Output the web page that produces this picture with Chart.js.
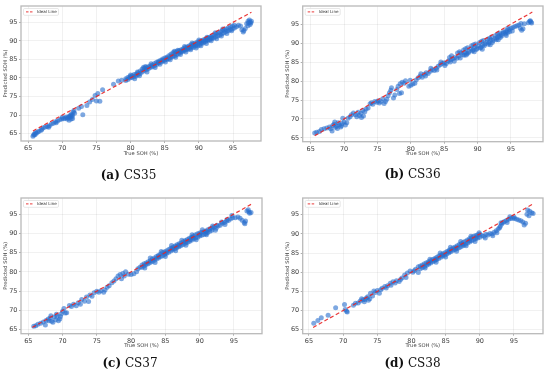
<!DOCTYPE html>
<html>
<head>
<meta charset="utf-8">
<script src="https://cdn.jsdelivr.net/npm/chart.js@4.4.1/dist/chart.umd.min.js"></script>
<style>
  html, body { margin: 0; padding: 0; background: #fff; }
  #wrap { position: relative; width: 550px; height: 377px; overflow: hidden; }
  #wrap canvas { position: absolute; }
  .caption { position: absolute; width: 200px; text-align: center; font-family: 'DejaVu Serif', serif; font-size: 12px; line-height: 14px; color: #111; }
</style>
</head>
<body>
<div id="wrap"></div>
<script>
// tick labels (both axes)
const sohTicks = [65, 70, 75, 80, 85, 90, 95];

// ideal line ends [min, max]
const cs35Ideal = [65.7, 97.7];
const cs36Ideal = [65.6, 98.2];
const cs37Ideal = [65.6, 97.5];
const cs38Ideal = [65.6, 97.8];

// [true SOH, predicted SOH]
const cs35Points = [
  [65.7,64.3],[65.8,64.6],[65.9,64.9],[66.0,64.7],[66.1,65.3],[66.2,65.1],[66.4,65.4],[66.6,65.6],[66.9,65.9],[67.0,66.2],
  [67.2,66.6],[67.5,66.8],[67.8,66.9],[68.0,66.7],[68.1,67.1],[68.4,67.6],[68.7,67.8],[69.0,68.2],[69.1,67.9],[69.3,68.4],
  [69.6,68.7],[69.9,68.9],[70.0,69.4],[70.2,69.0],[70.4,69.2],[70.6,69.5],[70.7,68.9],[70.8,69.3],[71.0,69.7],[71.0,68.6],
  [71.1,69.4],[71.2,69.9],[71.3,70.2],[71.3,68.9],[71.4,69.6],[71.5,70.0],[71.5,69.1],[71.6,70.8],[71.7,71.2],[71.8,70.5],
  [72.4,71.8],[72.8,72.3],[73.0,70.1],[73.6,72.6],[74.0,73.5],[74.4,74.2],[74.8,75.3],[75.0,73.8],[75.2,75.8],[75.5,73.7],
  [75.9,76.8],[77.5,78.3],[78.2,79.2],[78.7,79.4],
  [79.3,79.8],[79.3,79.3],[79.6,80.1],[79.6,79.6],[79.9,80.4],[79.9,80.0],[80.2,80.6],[80.2,80.1],[80.5,80.9],[80.5,80.3],
  [80.8,81.0],[80.8,80.5],[81.1,81.4],[81.1,80.9],[81.4,81.9],[81.4,81.2],[81.7,82.4],[81.7,81.6],[82.0,82.6],[82.0,82.0],
  [82.3,82.8],[82.3,82.2],[82.6,83.0],[82.6,82.5],[82.9,83.3],[82.9,82.8],[83.2,83.5],[83.2,83.0],[83.5,83.9],[83.5,83.3],
  [83.8,84.2],[83.8,83.6],[84.1,84.5],[84.1,84.0],[84.1,84.2],[84.4,84.8],[84.4,84.2],[84.7,85.1],[84.7,84.5],[84.7,84.8],
  [85.0,85.4],[85.0,84.8],[85.3,85.6],[85.3,85.0],[85.3,85.3],[85.6,86.0],[85.6,85.2],[85.9,86.4],[85.9,85.5],[85.9,85.9],
  [86.2,86.8],[86.2,85.8],[86.4,87.2],[86.5,87.0],[86.5,86.0],[86.5,86.5],[86.8,87.1],[86.8,86.3],[86.9,87.5],[87.1,87.4],
  [87.1,86.6],[87.1,87.0],[87.4,87.6],[87.4,86.9],[87.4,87.2],[87.7,87.9],[87.7,87.2],[87.7,87.5],[88.0,88.2],[88.0,87.5],
  [88.0,87.8],[88.3,88.4],[88.3,87.7],[88.3,88.0],[88.6,88.7],[88.6,87.9],[88.6,88.3],[88.9,89.0],[88.9,88.1],[88.9,88.5],
  [89.2,89.2],[89.2,88.3],[89.2,88.8],[89.5,89.4],[89.5,88.6],[89.5,89.0],[89.8,89.7],[89.8,88.6],[89.8,89.2],[90.1,89.9],
  [90.1,88.9],[90.1,89.5],[90.4,90.1],[90.4,89.3],[90.4,89.7],[90.7,90.3],[90.7,89.5],[90.7,89.9],[91.0,90.6],[91.0,89.8],
  [91.0,90.2],[91.3,90.8],[91.3,90.1],[91.3,90.4],[91.6,91.0],[91.6,90.3],[91.6,90.7],[91.9,91.3],[91.9,90.6],[91.9,90.9],
  [92.2,91.6],[92.2,90.8],[92.5,91.9],[92.5,91.1],[92.8,92.2],[92.8,91.4],[93.1,92.4],[93.1,91.6],[93.4,92.7],[93.4,91.9],
  [93.7,93.0],[93.7,92.2],[94.0,93.2],[94.0,92.5],[94.3,93.5],[94.3,92.7],[94.6,93.8],[94.6,93.0],[94.9,94.0],[94.9,93.2],
  [95.2,94.2],[95.2,93.5],[95.5,93.8],[95.8,94.2],[96.1,94.0],[96.3,93.0],[96.5,92.4],[96.6,92.8],[96.8,93.3],[97.0,94.6],
  [97.2,95.3],[97.3,94.9],[97.4,95.6],[97.5,95.1],[97.6,94.8],[97.7,95.3],[97.5,94.4],[97.2,94.1],
  [84.3,83.7],[85.1,84.3],[85.8,84.9],[86.6,85.6],[87.3,86.3],[88.1,87.0],[88.8,87.6],[89.6,88.1],[90.3,88.7],[91.1,89.3],
  [91.8,90.0],[92.6,90.6],[93.3,91.3],[94.1,92.0],[94.8,92.7],[87.9,88.5],[89.0,89.4],[90.0,90.2],[91.2,91.0],[92.4,92.2],
  [93.5,93.2],[81.0,81.6],[82.2,83.1],[83.0,83.8],[80.0,80.8],[80.6,79.8],[81.3,80.6],[81.9,82.9],[82.4,81.6],[83.6,82.8]
];

const cs36Points = [
  [65.6,66.3],[65.9,66.5],[66.3,66.7],[66.6,67.2],[67.0,67.4],[67.4,67.6],[67.8,67.9],[68.0,67.4],[68.2,66.8],[68.3,68.3],
  [68.5,68.6],[68.6,69.2],[68.7,67.8],[68.9,68.1],[69.0,67.5],[69.1,69.0],[69.3,68.5],[69.5,67.9],[69.6,68.2],[69.7,68.8],
  [69.8,70.2],[70.0,69.2],[70.2,68.4],[70.4,69.0],[70.6,70.2],[70.9,70.6],[71.1,71.1],[71.4,71.6],[71.7,71.1],[71.9,70.6],
  [72.1,71.8],[72.3,70.9],[72.5,71.5],[72.6,70.4],[72.8,72.2],[72.9,70.8],[73.1,71.9],[73.3,72.6],[73.6,72.9],[73.9,74.0],
  [74.1,74.3],[74.3,73.9],[74.6,74.6],[74.9,74.4],[75.1,74.8],[75.3,74.2],[75.5,74.6],[75.8,75.3],[76.0,74.1],[76.2,74.6],
  [76.4,75.2],[76.6,76.1],[76.8,76.9],[77.0,77.6],[77.1,78.2],[77.4,75.5],[77.6,76.3],[77.9,77.8],[78.1,78.6],[78.3,76.7],
  [78.4,79.3],[78.6,76.9],[78.7,79.7],[79.0,79.4],[79.2,80.1],[79.7,78.6],[79.9,80.2],[80.0,78.9],[80.3,79.2],[80.6,79.4],
  [80.8,80.3],[81.1,80.9],[81.4,81.3],[81.7,81.0],[82.0,81.8],[82.3,82.2],[82.6,82.0],[82.9,82.6],[83.2,83.0],[83.5,82.8],
  [83.8,83.4],[84.1,83.9],[84.4,84.3],[84.7,84.6],[85.0,84.8],[85.3,84.6],[85.6,85.3],[85.9,85.0],[86.0,85.6],[86.3,85.9],
  [86.6,86.2],[86.9,86.0],[87.2,86.6],[87.3,87.7],[87.5,87.4],[87.8,87.0],[87.9,88.2],[88.0,86.8],[88.1,87.5],[88.4,87.3],
  [88.5,88.8],[88.6,87.4],[88.7,87.8],[89.0,88.5],[89.1,89.3],[89.2,87.9],[89.3,88.2],[89.6,89.0],[89.7,89.8],[89.8,88.3],
  [89.9,88.6],[90.2,89.3],[90.3,90.2],[90.4,88.7],[90.5,88.9],[90.8,89.6],[90.9,90.7],[91.0,89.3],[91.1,89.8],[91.4,90.3],
  [91.5,91.0],[91.6,89.7],[91.7,90.1],[92.0,90.8],[92.1,91.6],[92.2,90.2],[92.3,90.6],[92.6,91.2],[92.7,92.0],[92.8,90.9],
  [92.9,91.4],[93.0,92.4],[93.2,91.8],[93.4,91.5],[93.5,92.2],[93.6,91.9],[93.8,92.6],[93.9,93.1],[94.1,92.9],[94.2,92.4],
  [94.4,93.3],[94.5,92.8],[94.7,93.6],[94.8,93.0],[95.0,93.9],[95.3,94.1],[95.6,94.4],[95.9,94.6],[96.2,94.8],[96.4,93.9],
  [96.5,95.2],[96.6,93.4],[96.8,93.8],[97.0,95.1],[97.6,95.4],[97.8,95.8],[97.9,95.9],[98.0,95.6],[98.1,95.3],
  [86.5,85.2],[87.4,86.1],[88.3,86.9],[89.5,87.7],[90.7,88.4],[91.9,89.6],[93.1,90.9],[94.3,92.0],[95.2,93.2],[86.1,86.7],
  [87.0,87.4],[88.2,88.5],[89.4,89.6],[90.6,90.5],[91.8,91.3],[93.3,92.7],[94.5,93.9],[81.5,81.9],[82.2,81.3],[83.0,83.4],
  [83.9,82.9],[84.5,85.0],[85.1,84.1],[85.8,86.2]
];

const cs37Points = [
  [65.8,65.9],[66.1,66.0],[66.4,66.4],[66.8,66.7],[67.2,67.0],[67.6,67.4],[67.5,66.2],[67.9,67.8],[68.0,67.3],[68.2,68.0],
  [68.4,67.2],[68.6,66.9],[68.8,68.3],[69.0,67.6],[69.2,68.5],[69.4,67.3],[69.6,67.8],[69.8,69.1],[70.0,69.8],[70.2,70.5],
  [70.4,69.3],[70.6,69.4],[68.3,68.6],[69.1,69.0],[69.7,68.4],[71.0,71.3],[71.3,71.0],[71.6,71.6],[72.0,71.2],[72.3,72.0],
  [72.6,71.6],[72.8,72.8],[73.2,72.4],[73.5,73.5],[73.8,72.3],[74.0,74.0],[74.3,73.7],[74.6,74.6],[75.0,75.0],[75.3,74.7],
  [75.6,75.1],[76.0,74.7],[76.2,75.3],[76.5,76.0],[76.8,76.4],[77.2,77.2],[77.5,77.6],[77.8,78.2],[78.1,78.9],[78.4,79.3],
  [78.8,79.6],[79.2,80.0],[78.6,78.2],[79.0,78.9],[79.6,79.4],[80.0,79.3],[80.4,79.5],[80.8,80.0],[81.0,80.8],[81.3,81.2],
  [81.6,81.8],[81.6,81.2],[81.9,82.1],[81.9,81.5],[82.2,82.3],[82.2,81.9],[82.5,82.6],[82.5,82.1],[82.8,82.9],[82.8,82.4],
  [83.1,83.3],[83.1,82.7],[83.4,83.6],[83.4,83.0],[83.7,84.0],[83.7,83.3],[84.0,84.3],[84.0,83.6],[84.3,84.6],[84.3,83.9],
  [84.6,85.0],[84.6,84.2],[84.9,85.2],[84.9,84.5],[85.2,85.5],[85.2,84.8],[85.5,85.8],[85.5,85.1],[85.8,86.1],[85.8,85.4],
  [86.1,86.4],[86.1,85.7],[86.4,86.7],[86.4,86.0],[86.7,87.0],[86.7,86.3],[87.0,87.3],[87.0,86.5],[87.3,87.5],[87.3,86.8],
  [87.6,87.8],[87.6,87.1],[87.9,88.1],[87.9,87.4],[88.2,88.4],[88.2,87.6],[88.5,88.7],[88.5,87.9],[88.8,89.0],[88.8,88.2],
  [89.1,89.3],[89.1,88.5],[89.4,89.6],[89.4,88.8],[89.7,89.9],[89.7,89.0],[90.0,90.1],[90.0,89.3],[90.3,90.3],[90.3,89.5],
  [90.6,90.4],[90.6,89.7],[90.9,90.6],[90.9,89.9],[91.2,90.9],[91.2,90.2],[91.5,91.2],[91.5,90.5],[91.8,91.4],[91.8,90.8],
  [84.0,84.0],[85.0,84.9],[86.0,86.0],[87.0,86.9],[88.0,87.9],[89.0,88.9],[90.0,89.7],[91.0,90.4],[86.6,86.6],[88.6,88.3],
  [92.1,91.6],[92.4,91.3],[92.7,91.9],[93.0,92.1],[93.3,92.6],[93.6,92.8],[93.9,93.1],[94.2,93.3],[94.5,93.7],[94.8,94.0],
  [92.5,92.1],[93.2,92.9],[94.0,93.6],[95.2,94.0],[95.6,94.2],[95.9,93.9],[96.2,93.4],[96.5,92.8],[96.7,93.2],[96.6,92.5],
  [96.9,95.8],[97.2,95.5],[97.5,95.4],[97.1,96.1],[97.3,95.2],
  [82.0,81.0],[83.5,82.4],[85.0,84.0],[86.5,85.5],[88.0,86.9],[89.5,88.3],[91.0,89.6],[92.3,90.8],[93.7,92.3],[82.8,83.6],
  [84.4,85.3],[85.9,86.8],[87.4,88.2],[88.9,89.6],[90.4,90.9],[91.9,91.9],[94.7,94.6]
];

const cs38Points = [
  [65.7,66.7],[66.3,67.4],[66.8,68.1],[67.8,68.8],[68.9,70.7],[70.2,71.6],[70.3,70.3],[70.5,69.8],[70.6,69.6],
  [71.5,71.4],[71.8,71.9],[72.2,72.0],[72.5,72.5],[72.9,72.8],[73.1,72.3],[73.4,73.3],[73.7,72.7],[74.0,74.5],[74.3,73.8],
  [74.7,74.7],[75.0,75.2],[75.3,74.5],[75.7,75.8],[76.1,76.3],[76.5,76.5],[76.9,77.1],[77.3,77.5],[77.8,77.8],[78.2,77.6],
  [78.6,78.5],[79.0,79.3],[79.4,79.8],[79.8,80.3],[80.2,80.0],[80.6,80.8],[81.0,81.4],[81.0,79.9],
  [72.7,73.1],[73.2,72.9],[73.6,73.6],[73.9,73.1],[74.5,75.1],[75.5,75.4],[76.3,75.9],[77.0,76.6],[77.6,77.2],[78.4,78.1],
  [79.2,78.6],[80.4,80.4],
  [81.3,81.6],[81.3,80.9],[81.6,81.9],[81.6,81.2],[81.9,82.2],[81.9,81.5],[82.2,82.5],[82.2,81.8],[82.5,82.7],[82.5,82.1],
  [82.8,83.0],[82.8,82.4],[83.1,83.3],[83.1,82.7],[83.4,83.6],[83.4,83.0],[83.7,83.9],[83.7,83.3],[84.0,84.2],[84.0,83.6],
  [84.3,84.5],[84.3,83.9],[84.6,84.8],[84.6,84.2],[84.9,85.1],[84.9,84.5],[85.2,85.4],[85.2,84.8],[85.5,85.7],[85.5,85.1],
  [85.8,86.0],[85.8,85.4],[86.1,86.3],[86.1,85.7],[86.4,86.6],[86.4,85.9],[86.7,86.9],[86.7,86.2],[87.0,87.2],[87.0,86.4],
  [87.3,87.5],[87.3,86.7],[87.6,87.8],[87.6,87.0],[87.9,88.1],[87.9,87.3],[88.2,88.4],[88.2,87.6],[88.5,88.7],[88.5,87.9],
  [88.8,89.0],[88.8,88.2],[89.1,89.4],[89.1,88.5],[89.4,89.6],[89.4,88.7],[89.7,89.8],[89.7,88.9],[90.0,89.9],[90.0,89.1],
  [84.5,84.5],[85.5,85.4],[86.5,86.3],[87.5,87.3],[88.5,88.3],[89.5,89.2],[83.5,83.3],[82.5,82.4],
  [90.3,89.6],[90.6,89.4],[90.9,89.9],[91.2,89.7],[91.5,90.1],[91.8,90.0],[92.1,90.4],[92.4,90.8],[92.7,91.3],[93.0,92.0],
  [93.2,92.6],[93.4,93.0],[93.6,93.2],[93.9,93.5],[94.2,93.8],[94.5,94.0],[94.8,94.1],[95.1,94.0],[95.4,93.8],[95.7,93.6],
  [96.0,93.4],[96.3,93.1],[96.5,92.3],[96.7,92.8],[96.9,95.1],[97.0,96.2],[97.2,94.7],[97.3,95.9],[97.6,95.5],[97.8,95.3],
  [93.1,92.9],[92.9,91.6],[94.0,93.0],[95.0,94.4],
  [82.0,81.1],[83.6,82.6],[85.0,84.0],[86.6,85.5],[88.0,86.9],[89.3,88.0],[90.8,88.9],[91.9,89.5],[92.5,90.3],[82.7,83.4],
  [84.2,85.0],[85.7,86.5],[87.2,88.0],[88.7,89.4],[89.9,90.3],[94.4,94.5]
];

// where each subfigure sits on the page
const panels = [
  { letter: 'a', name: 'CS35', points: cs35Points, ideal: cs35Ideal, left: 0,   top: 0,   yW: 21,   xH: 29,   padTop: 6,  padRight: 14, xTitlePad: 13, yTitlePad: 3,   xRange: [63.95, 99.1], yRange: [63.0, 99.4],  capX: 128.5, capY: 175 },
  { letter: 'b', name: 'CS36', points: cs36Points, ideal: cs36Ideal, left: 275, top: 0,   yW: 27.7, xH: 28.3, padTop: 6,  padRight: 7,  xTitlePad: 13, yTitlePad: 9.7, xRange: [63.8, 99.8],  yRange: [64.0, 99.8],  capX: 412.5, capY: 174 },
  { letter: 'c', name: 'CS37', points: cs37Points, ideal: cs37Ideal, left: 0,   top: 188, yW: 21,   xH: 24.3, padTop: 10, padRight: 13, xTitlePad: 9,  yTitlePad: 3,   xRange: [63.94, 99.1], yRange: [63.96, 99.15], capX: 130, capY: 363 },
  { letter: 'd', name: 'CS38', points: cs38Points, ideal: cs38Ideal, left: 275, top: 188, yW: 27.7, xH: 24.3, padTop: 10, padRight: 7,  xTitlePad: 9.3, yTitlePad: 9.7, xRange: [64.08, 99.25], yRange: [63.96, 99.36], capX: 412.5, capY: 363 }
];

Chart.defaults.font.family = "'DejaVu Sans', sans-serif";
Chart.defaults.color = '#444';

// gray box round the plot area
const frameBox = {
  id: 'frameBox',
  afterDatasetsDraw(chart) {
    const { ctx, chartArea: a } = chart;
    ctx.save();
    ctx.strokeStyle = '#b9b9b9';
    ctx.lineWidth = 1.3;
    ctx.strokeRect(a.left, a.top, a.right - a.left, a.bottom - a.top);
    ctx.restore();
  }
};

// small legend in the upper left corner
const idealLegend = {
  id: 'idealLegend',
  afterDatasetsDraw(chart) {
    const { ctx, chartArea } = chart;
    const line = chart.data.datasets[0];
    const x0 = chartArea.left + 2.5, y0 = chartArea.top + 2.5;
    ctx.save();
    ctx.fillStyle = 'rgba(255,255,255,0.9)';
    ctx.strokeStyle = '#d6d6d6';
    ctx.lineWidth = 0.6;
    ctx.beginPath();
    ctx.roundRect(x0, y0, 35, 6.8, 1.2);
    ctx.fill();
    ctx.stroke();
    ctx.strokeStyle = line.borderColor;
    ctx.lineWidth = 1;
    ctx.setLineDash([2.5, 1.5]);
    ctx.beginPath();
    ctx.moveTo(x0 + 2.5, y0 + 3.4);
    ctx.lineTo(x0 + 10.5, y0 + 3.4);
    ctx.stroke();
    ctx.setLineDash([]);
    ctx.fillStyle = '#333';
    ctx.font = "4.1px 'DejaVu Sans'";
    ctx.textBaseline = 'middle';
    ctx.fillText(line.label, x0 + 13.5, y0 + 3.6);
    ctx.restore();
  }
};

const wrap = document.getElementById('wrap');

panels.forEach(p => {
  const canvas = document.createElement('canvas');
  canvas.width = 275;
  canvas.height = 170;
  canvas.style.left = p.left + 'px';
  canvas.style.top = p.top + 'px';
  wrap.appendChild(canvas);

  const cap = document.createElement('div');
  cap.className = 'caption';
  cap.style.left = (p.capX - 100) + 'px';
  cap.style.top = (p.capY - 7) + 'px';
  cap.innerHTML = `<b>(${p.letter})</b> ${p.name}`;
  wrap.appendChild(cap);

  new Chart(canvas, {
    type: 'scatter',
    data: {
      datasets: [
        {
          type: 'line',
          label: 'Ideal Line',
          data: p.ideal.map(v => ({ x: v, y: v })),
          borderColor: 'rgba(232,35,35,0.9)',
          borderWidth: 1.2,
          borderDash: [4, 2.5],
          pointRadius: 0,
          fill: false
        },
        {
          label: 'Predictions',
          data: p.points.map(d => ({ x: d[0], y: d[1] })),
          backgroundColor: 'rgba(40,110,205,0.6)',
          borderWidth: 0,
          pointRadius: 2.5
        }
      ]
    },
    options: {
      responsive: false,
      animation: false,
      layout: { padding: { top: p.padTop, right: p.padRight, left: 0, bottom: 0 } },
      plugins: { legend: { display: false }, tooltip: { enabled: false } },
      scales: {
        x: {
          type: 'linear',
          min: p.xRange[0],
          max: p.xRange[1],
          afterBuildTicks: s => { s.ticks = sohTicks.map(v => ({ value: v })); },
          afterFit: s => { s.height = p.xH; },
          ticks: { font: { size: 6.5 }, color: '#404040', padding: 1.5, maxRotation: 0 },
          grid: { color: 'rgba(0,0,0,0.07)', lineWidth: 0.8, tickLength: 2, tickColor: '#999', tickWidth: 0.8 },
          border: { display: false },
          title: { display: true, text: 'True SOH (%)', font: { size: 5.2 }, color: '#444', padding: { top: 0, bottom: p.xTitlePad } }
        },
        y: {
          type: 'linear',
          min: p.yRange[0],
          max: p.yRange[1],
          afterBuildTicks: s => { s.ticks = sohTicks.map(v => ({ value: v })); },
          afterFit: s => { s.width = p.yW; },
          ticks: { font: { size: 6.5 }, color: '#404040', padding: 1.5 },
          grid: { color: 'rgba(0,0,0,0.07)', lineWidth: 0.8, tickLength: 2, tickColor: '#999', tickWidth: 0.8 },
          border: { display: false },
          title: { display: true, text: 'Predicted SOH (%)', font: { size: 5.2 }, color: '#444', padding: { top: p.yTitlePad, bottom: 0 } }
        }
      }
    },
    plugins: [frameBox, idealLegend]
  });
});
</script>
</body>
</html>
